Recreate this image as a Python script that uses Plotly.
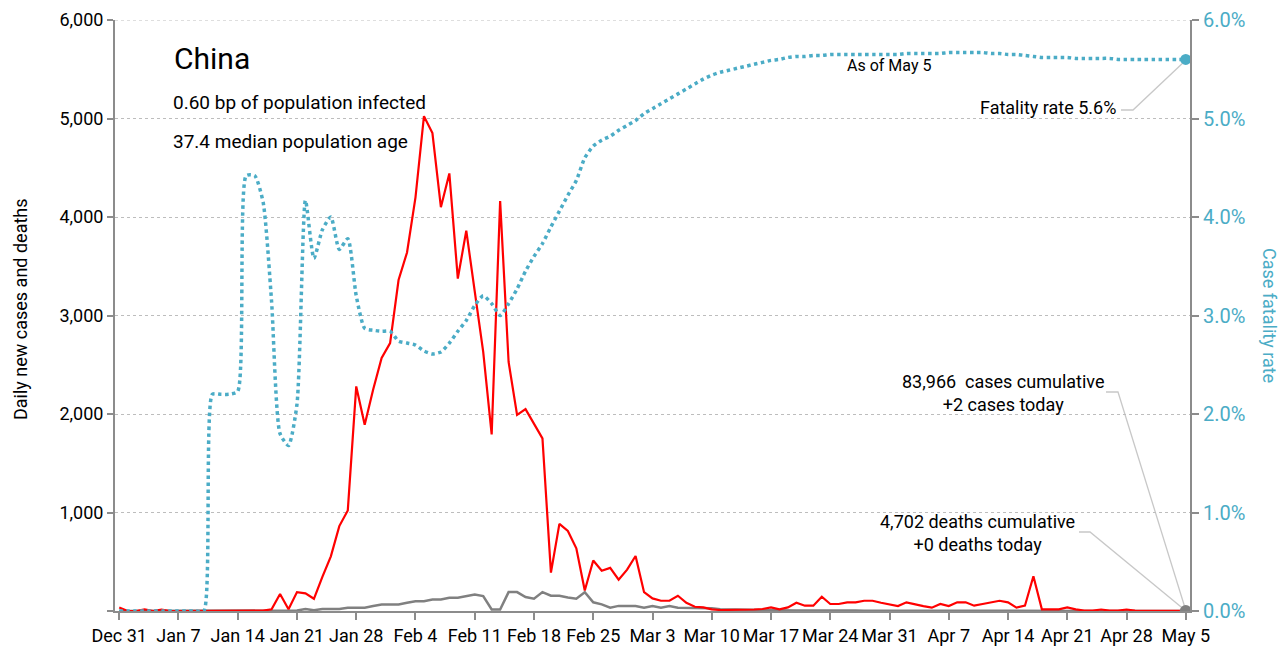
import pandas as pd
import plotly.graph_objects as go

# ---------------- data ----------------
dates = pd.date_range("2019-12-31", "2020-05-05", freq="D")

new_cases = [
    35, 0, 0, 17, 0, 15, 0, 0, 0, 0, 0, 0, 0, 0, 0, 0, 0, 4, 17, 172,
    17, 192, 179, 124, 346, 555, 862, 1020, 2280, 1892, 2249, 2569, 2720, 3360, 3640, 4200, 5023, 4852, 4100, 4442,
    3375, 3861, 3245, 2630, 1793, 4161, 2528, 1991, 2049, 1896, 1752, 390, 884, 812, 637, 208, 513, 408, 438, 318,
    420, 558, 191, 128, 104, 104, 155, 84, 43, 37, 17, 10, 10, 10, 15, 15, 20, 37, 17, 37,
    84, 54, 54, 145, 71, 71, 88, 88, 104, 104, 84, 67, 50, 88, 67, 50, 34, 71, 50, 88,
    88, 54, 71, 88, 104, 88, 34, 54, 353, 17, 17, 17, 37, 17, 5, 5, 15, 5, 5, 15,
    5, 5, 3, 3, 2, 3, 2,
]

new_deaths = [
    0, 0, 0, 0, 0, 0, 0, 0, 0, 0, 0, 1, 0, 0, 0, 0, 0, 0, 0, 0,
    3, 5, 20, 8, 20, 20, 20, 34, 34, 34, 50, 67, 67, 67, 84, 100, 100, 117, 117, 135,
    135, 150, 168, 152, 15, 15, 192, 192, 142, 125, 192, 155, 155, 138, 125, 190, 88, 67, 34, 52,
    50, 50, 34, 50, 34, 50, 34, 34, 34, 30, 28, 17, 15, 12, 10, 10, 8, 8, 6, 6,
    5, 5, 6, 5, 5, 4, 4, 4, 3, 3, 3, 2, 2, 3, 3, 8, 3, 2, 2, 1,
    1, 1, 1, 1, 1, 1, 1, 1, 1, 1, 1, 1, 1, 1, 0, 0, 1, 0, 0, 0,
    0, 0, 0, 0, 0, 0, 0,
]

fatality_pct = [
    0, 0, 0, 0, 0, 0, 0, 0, 0, 0, 0, 2.2, 2.2, 2.2, 2.23, 4.42, 4.42, 4.15, 3.14, 1.8,
    1.68, 2.1, 4.17, 3.58, 3.87, 4.0, 3.67, 3.78, 3.2, 2.87, 2.85, 2.84, 2.84, 2.74, 2.72, 2.70, 2.64, 2.61, 2.63, 2.72,
    2.84, 2.95, 3.1, 3.2, 3.12, 3.0, 3.12, 3.27, 3.45, 3.6, 3.73, 3.9, 4.06, 4.22, 4.37, 4.6, 4.72, 4.78, 4.82, 4.88,
    4.93, 4.98, 5.05, 5.1, 5.15, 5.2, 5.25, 5.3, 5.35, 5.4, 5.44, 5.47, 5.49, 5.51, 5.53, 5.55, 5.57, 5.59, 5.6, 5.62,
    5.63, 5.63, 5.64, 5.64, 5.65, 5.65, 5.65, 5.65, 5.65, 5.65, 5.65, 5.65, 5.65, 5.66, 5.66, 5.66, 5.66, 5.66, 5.67, 5.67,
    5.67, 5.67, 5.67, 5.66, 5.66, 5.65, 5.65, 5.64, 5.63, 5.62, 5.62, 5.62, 5.62, 5.61, 5.61, 5.61, 5.61, 5.61, 5.6, 5.6,
    5.6, 5.6, 5.6, 5.6, 5.6, 5.6, 5.6,
]
fatality = [v / 100 for v in fatality_pct]

tick_dates = pd.date_range("2019-12-31", "2020-05-05", freq="7D")
tick_labels = [d.strftime("%b ") + str(d.day) for d in tick_dates]

left_ticks = [0, 1000, 2000, 3000, 4000, 5000, 6000]
left_labels = ["", "1,000", "2,000", "3,000", "4,000", "5,000", "6,000"]
right_ticks = [0, 0.01, 0.02, 0.03, 0.04, 0.05, 0.06]

# ---------------- style ----------------
RED = "#FF0000"
GRAY = "#808080"
TEAL = "#4BACC6"
AXIS = "#8C8C8C"
GRID = "#BDBDBD"
FONT = "Roboto, Liberation Sans, sans-serif"

# the page body adds an 8px offset; compensate so the screenshot lines up
OFF = 8
W, H = 1288 - OFF, 653 - OFF
# target plot area in screenshot pixels
X0, X1, Y0, Y1 = 115, 1190, 20, 611
L, R, T, B = X0 - OFF, W - (X1 - OFF), Y0 - OFF, H - (Y1 - OFF)
PW, PH = X1 - X0, Y1 - Y0


def px(x):
    return (x - X0) / PW


def py(y):
    return (Y1 - y) / PH


fig = go.Figure()

fig.add_trace(go.Scatter(
    x=dates, y=fatality, yaxis="y2", mode="lines",
    line=dict(color=TEAL, width=3.5, dash="dot", shape="spline", smoothing=0.6),
    hoverinfo="skip", showlegend=False,
))
fig.add_trace(go.Scatter(
    x=dates, y=new_deaths, mode="lines",
    line=dict(color=GRAY, width=2.5), showlegend=False,
))
fig.add_trace(go.Scatter(
    x=dates, y=new_cases, mode="lines",
    line=dict(color=RED, width=2.2), showlegend=False,
))
# end markers
fig.add_trace(go.Scatter(
    x=[dates[-1]], y=[new_deaths[-1]], mode="markers",
    marker=dict(color=GRAY, size=12), showlegend=False,
))
fig.add_trace(go.Scatter(
    x=[dates[-1]], y=[fatality[-1]], yaxis="y2", mode="markers",
    marker=dict(color=TEAL, size=11), showlegend=False,
))

fig.update_layout(
    width=W, height=H,
    margin=dict(l=L, r=R, t=T, b=B, autoexpand=False),
    paper_bgcolor="white", plot_bgcolor="white",
    font=dict(family=FONT, color="black"),
    xaxis=dict(
        type="date", automargin=False,
        range=["2019-12-30 12:00", "2020-05-05 12:00"],
        tickvals=list(tick_dates), ticktext=tick_labels,
        ticks="outside", ticklen=7, tickcolor=AXIS, tickwidth=1.5,
        showline=True, linecolor=AXIS, linewidth=2,
        showgrid=False, zeroline=False,
        tickfont=dict(size=18, color="black"),
        ticklabeloverflow="allow",
    ),
    yaxis=dict(
        range=[0, 6000], automargin=False,
        tickvals=left_ticks, ticktext=left_labels,
        ticks="outside", ticklen=6, tickcolor=AXIS, tickwidth=1.5,
        showline=True, linecolor=AXIS, linewidth=2,
        showgrid=True, gridcolor=GRID, griddash="dot", gridwidth=1,
        zeroline=False,
        tickfont=dict(size=18, color="black"),
        ticklabeloverflow="allow",
    ),
    yaxis2=dict(
        range=[0, 0.06], overlaying="y", side="right", automargin=False,
        tickvals=right_ticks, tickformat=".1%",
        ticks="outside", ticklen=7, tickcolor=AXIS, tickwidth=1.5,
        showline=True, linecolor=AXIS, linewidth=2,
        showgrid=False, zeroline=False,
        tickfont=dict(size=20, color=TEAL),
        ticklabeloverflow="allow",
    ),
)

ann = []


def add_text(text, x, y, size, xanchor="left", yanchor="middle", color="black", angle=0, family=FONT):
    ann.append(dict(
        text=text, x=px(x), y=py(y), xref="paper", yref="paper",
        xanchor=xanchor, yanchor=yanchor, showarrow=False, textangle=angle,
        font=dict(size=size, color=color, family=family),
    ))


add_text("China", 172, 59, 30)
add_text("0.60 bp of population infected", 171, 102, 19)
add_text("37.4 median population age", 171, 141, 19)
add_text("As of May 5", 889, 66, 16, xanchor="center")
add_text("Fatality rate 5.6%", 1118, 108, 18, xanchor="right")
add_text("83,966  cases cumulative<br>+2 cases today", 1003, 393, 18, xanchor="center")
add_text("4,702 deaths cumulative<br>+0 deaths today", 977, 533, 18, xanchor="center")
add_text("Daily new cases and deaths", 20, 309, 18, xanchor="center", angle=-90)
add_text("Case fatality rate", 1270, 315, 18, xanchor="center", color=TEAL, angle=90)

fig.update_layout(annotations=ann)


def path(points):
    return "M " + " L ".join(f"{px(a):.5f},{py(b):.5f}" for a, b in points)


conn = dict(color="#C8C8C8", width=1.3)
shapes = [
    # top gridline (plotly drops the grid line at the range edge)
    dict(type="line", xref="paper", yref="y", x0=0, x1=1,
         y0=left_ticks[-1], y1=left_ticks[-1], layer="below",
         line=dict(color=GRID, width=1, dash="dot")),
    dict(type="path", xref="paper", yref="paper", layer="below",
         path=path([(1121, 110), (1133, 110), (1186, 60)]), line=conn),
    dict(type="path", xref="paper", yref="paper", layer="below",
         path=path([(1106, 392), (1118, 392), (1186, 611)]), line=conn),
    dict(type="path", xref="paper", yref="paper", layer="below",
         path=path([(1079, 532), (1090, 532), (1186, 611)]), line=conn),
]
fig.update_layout(shapes=shapes)

fig.write_html("out.html")
